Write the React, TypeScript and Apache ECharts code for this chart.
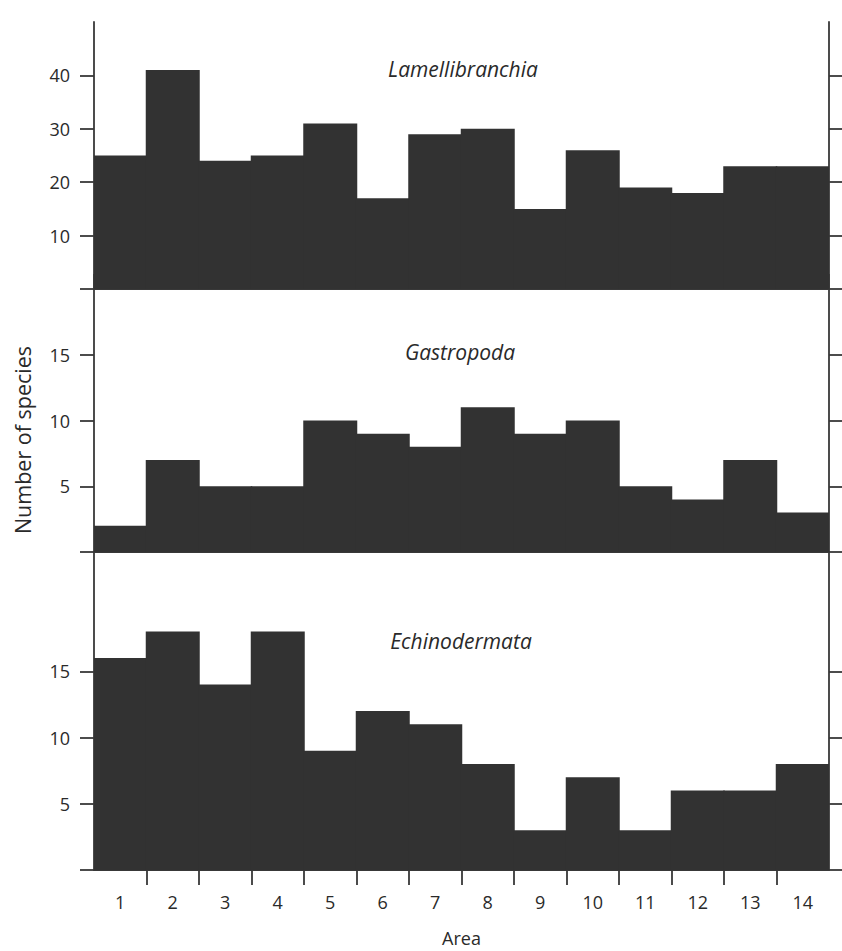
import React, { useEffect, useRef } from "react";
import * as echarts from "echarts";

const areas = ["1", "2", "3", "4", "5", "6", "7", "8", "9", "10", "11", "12", "13", "14"];
const lamellibranchia = [25, 41, 24, 25, 31, 17, 29, 30, 15, 26, 19, 18, 23, 23];
const gastropoda = [2, 7, 5, 5, 10, 9, 8, 11, 9, 10, 5, 4, 7, 3];
const echinodermata = [16, 18, 14, 18, 9, 12, 11, 8, 3, 7, 3, 6, 6, 8];

const panelNames = ["Lamellibranchia", "Gastropoda", "Echinodermata"];
const panelMax = [50, 20, 24];
const panelTicks = [[0, 10, 20, 30, 40], [0, 5, 10, 15], [0, 5, 10, 15]];
const panelLabels = [[10, 20, 30, 40], [5, 10, 15], [5, 10, 15]];

const FONT = "Open Sans";
const INK = "#383838";
const BAR = "#323232";
const TXT = "#2a2a2a";

export default function App() {
  const ref = useRef<HTMLDivElement>(null);
  useEffect(() => {
    const chart = echarts.init(ref.current as HTMLDivElement, null, { renderer: "svg" });
    const L = 94;
    const W = 735;
    const grids = [
      { left: L, width: W, top: 22, height: 267 },
      { left: L, width: W, top: 289, height: 263 },
      { left: L, width: W, top: 552, height: 318 },
    ];
    const lineStyle = { color: INK, width: 1.8 };
    const seriesData = [lamellibranchia, gastropoda, echinodermata];

    const xAxis: any[] = [];
    for (let i = 0; i < 3; i++) {
      xAxis.push({ type: "category", gridIndex: i, data: areas, show: false, boundaryGap: true });
    }
    const tickVals = areas.map((_, i) => i).concat([areas.length]);
    xAxis.push({
      type: "value", gridIndex: 0, position: "top", min: 0, max: areas.length, interval: 1,
      axisLine: { show: true, lineStyle },
      axisTick: { show: true, inside: false, length: 15, lineStyle },
      axisLabel: { show: false }, splitLine: { show: false },
    });
    xAxis.push({
      type: "value", gridIndex: 0, position: "bottom", min: 0, max: areas.length,
      axisLine: { show: true, lineStyle }, axisTick: { show: false },
      axisLabel: { show: false }, splitLine: { show: false },
    });
    xAxis.push({
      type: "value", gridIndex: 1, position: "bottom", min: 0, max: areas.length,
      axisLine: { show: true, lineStyle }, axisTick: { show: false },
      axisLabel: { show: false }, splitLine: { show: false },
    });
    xAxis.push({
      type: "value", gridIndex: 2, position: "bottom", min: 0, max: areas.length,
      name: "Area", nameLocation: "middle", nameGap: 59,
      nameTextStyle: { fontFamily: FONT, fontSize: 18, color: TXT },
      axisLine: { show: true, lineStyle },
      axisTick: { show: true, inside: false, length: 15, lineStyle, customValues: tickVals.slice(1, -1) },
      axisLabel: {
        show: true, margin: 23, fontFamily: FONT, fontSize: 18, color: TXT,
        customValues: areas.map((_, i) => i + 0.5),
        formatter: (v: number) => areas[Math.floor(v)] ?? "",
      },
      splitLine: { show: false },
    });

    const yAxis: any[] = [];
    for (let i = 0; i < 3; i++) {
      yAxis.push({
        type: "value", gridIndex: i, position: "left", min: 0, max: panelMax[i],
        axisLine: { show: true, onZero: false, lineStyle },
        axisTick: { show: true, inside: false, length: 14, lineStyle, customValues: panelTicks[i] },
        axisLabel: {
          show: true, margin: 24, fontFamily: FONT, fontSize: 18, color: TXT,
          customValues: panelLabels[i],
        },
        splitLine: { show: false },
      });
    }
    for (let i = 0; i < 3; i++) {
      yAxis.push({
        type: "value", gridIndex: i, position: "right", min: 0, max: panelMax[i],
        axisLine: { show: true, onZero: false, lineStyle },
        axisTick: { show: true, inside: false, length: 14, lineStyle, customValues: panelTicks[i] },
        axisLabel: { show: false },
        splitLine: { show: false },
      });
    }

    const series = seriesData.map((d, i) => ({
      type: "bar",
      name: panelNames[i],
      xAxisIndex: i,
      yAxisIndex: i,
      data: d,
      barWidth: 54,
      barCategoryGap: "0%",
      itemStyle: { color: BAR },
      silent: true,
    }));

    const titlePos = [
      [463, 69],
      [460, 352],
      [461, 641],
    ];

    const graphic: any[] = panelNames.map((n, i) => ({
      type: "text",
      x: titlePos[i][0],
      y: titlePos[i][1],
      z: 100,
      style: {
        text: n, fontFamily: FONT, fontStyle: "italic", fontSize: 21, fill: TXT,
        align: "center", verticalAlign: "middle",
      },
    }));
    graphic.push({
      type: "text",
      x: 22,
      y: 440,
      rotation: Math.PI / 2,
      style: {
        text: "Number of species", fontFamily: FONT, fontSize: 21.5, fill: TXT,
        align: "center", verticalAlign: "middle",
      },
    });

    chart.setOption({
      animation: false,
      backgroundColor: "#ffffff",
      grid: grids,
      xAxis,
      yAxis,
      series,
      graphic,
    });
    return () => chart.dispose();
  }, []);
  return <div ref={ref} style={{ position: "absolute", left: 0, top: 0, width: 842, height: 951 }} />;
}
